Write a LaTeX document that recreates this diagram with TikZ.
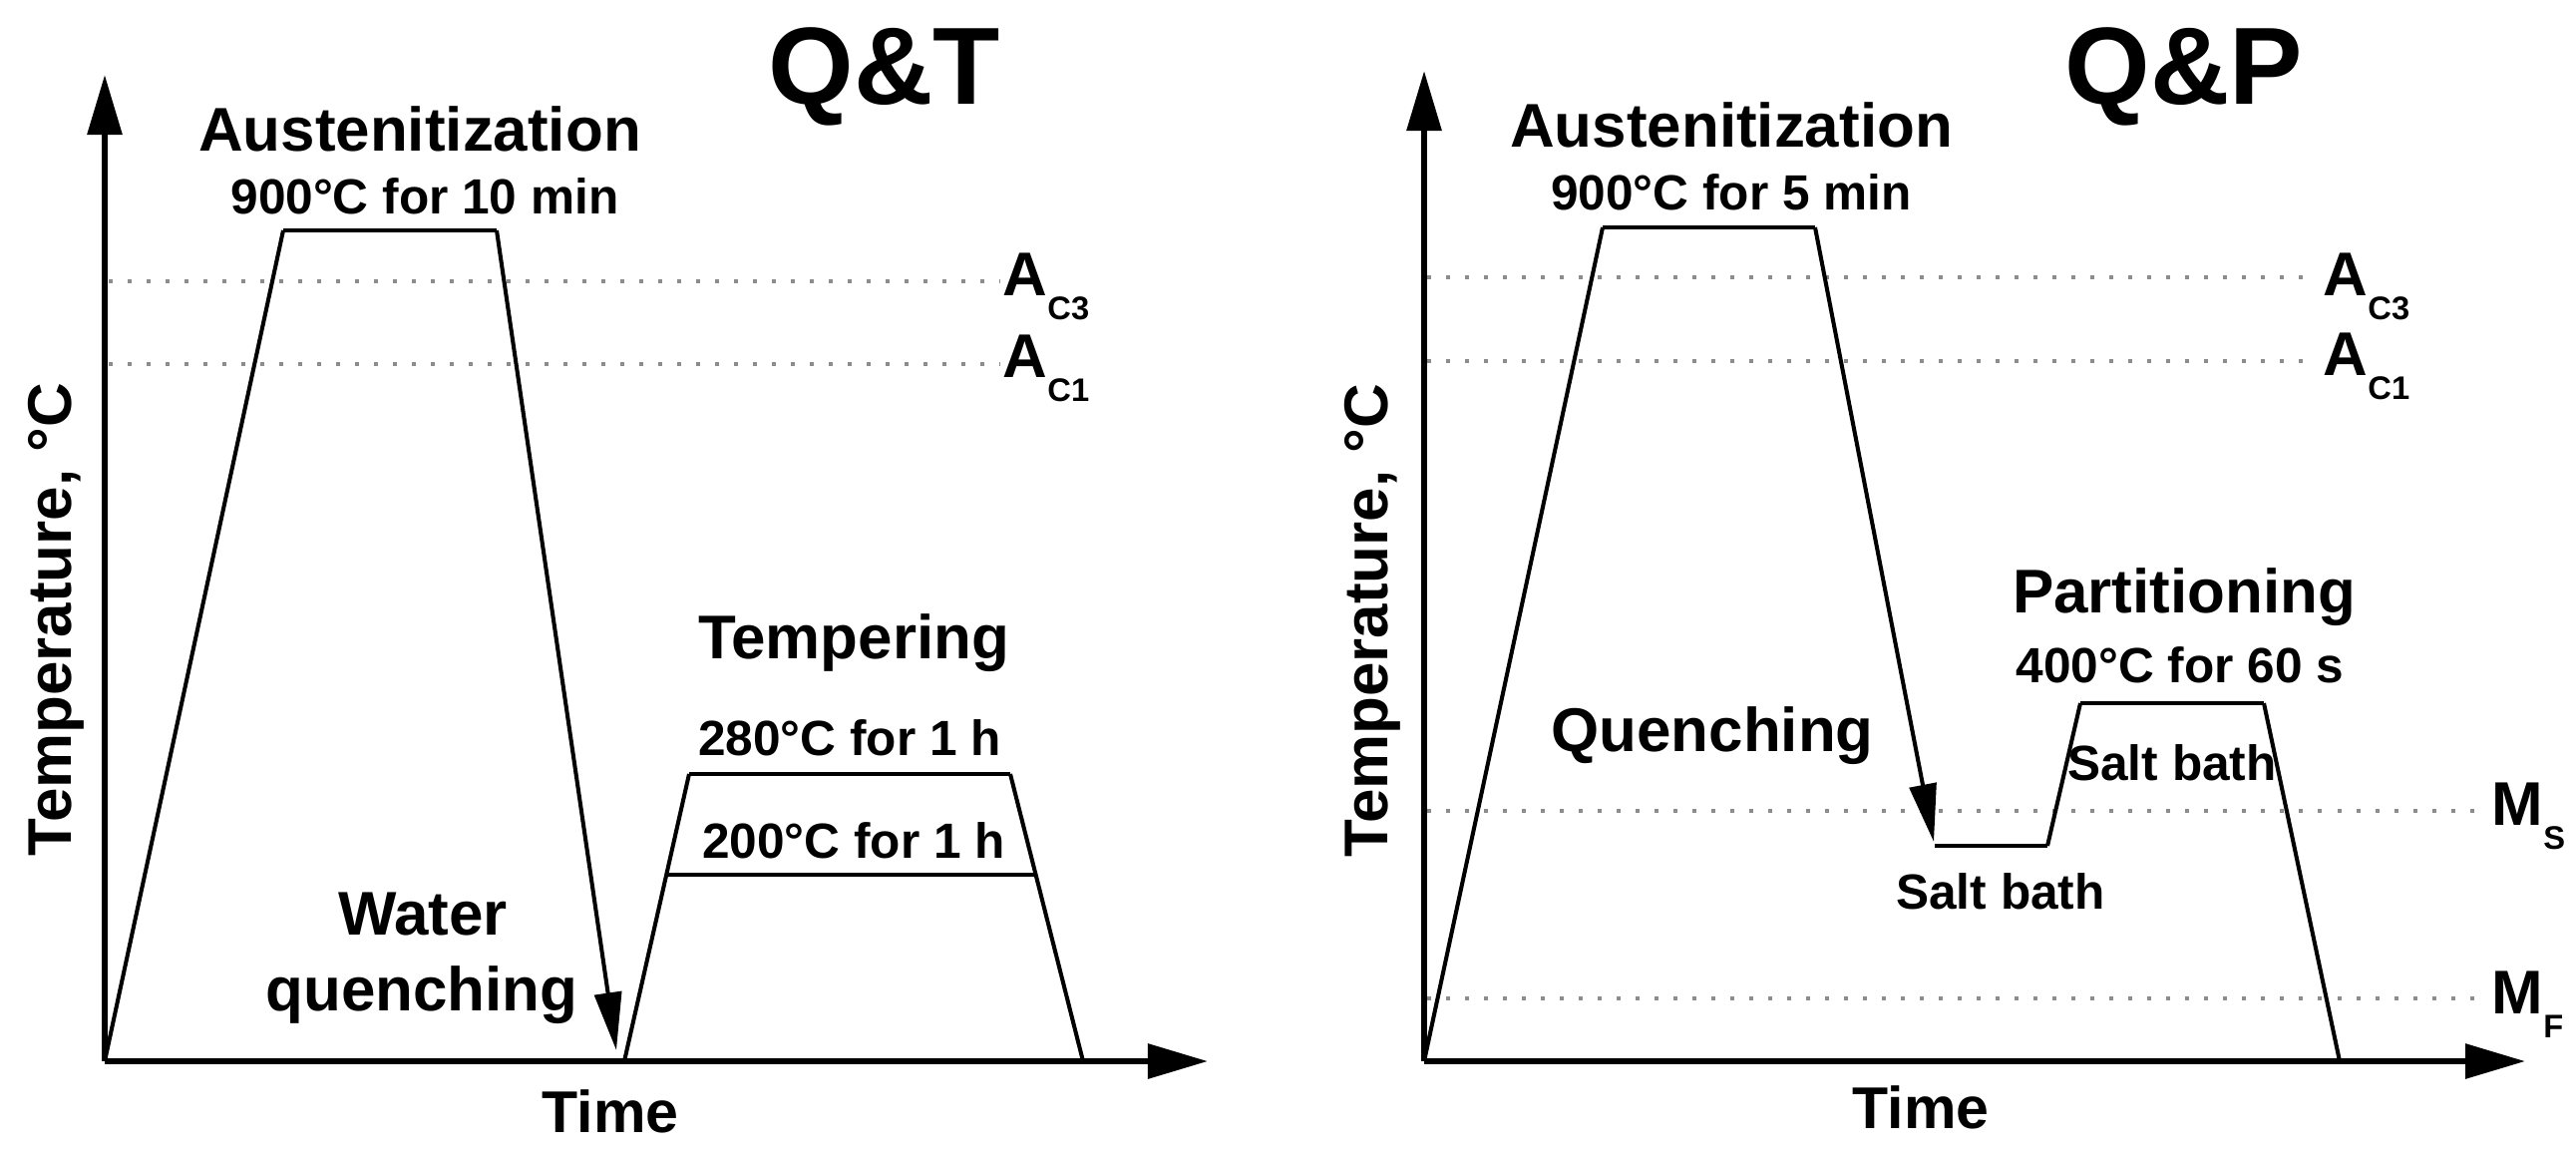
\documentclass[tikz,border=0pt]{standalone}
\usepackage{fontspec}
\setmainfont{Liberation Sans}
\usetikzlibrary{arrows.meta}
\newcommand{\lowsub}[1]{\raisebox{-0.24cm}{\fontsize{9.3}{10}\selectfont #1}}
\tikzset{
  axisline/.style={line width=1.7pt, -{Triangle[length=0.6cm,width=0.34cm]}},
  prof/.style={line width=1.15pt, line join=miter},
  plateau/.style={line width=1.4pt},
  qarrow/.style={prof, -{Triangle[length=0.58cm,width=0.27cm]}},
  refline/.style={line width=1.1pt, color=black!45, dash pattern=on 0.04cm off 0.15cm},
  biglabel/.style={font=\bfseries\fontsize{17.6}{20}\selectfont, inner sep=0pt},
  timelabel/.style={font=\bfseries\fontsize{16.8}{19}\selectfont, inner sep=0pt},
  smalllabel/.style={font=\bfseries\fontsize{14.1}{16}\selectfont, inner sep=0pt},
  titlelabel/.style={font=\bfseries\fontsize{31.3}{34}\selectfont, inner sep=0pt},
}
\begin{document}
\begin{tikzpicture}[x=0.01cm, y=-0.01cm]
\useasboundingbox (0,0) rectangle (2583,1157);

% ---------------- Left panel: Q&T ----------------
\coordinate (oL) at (105,1064);
\coordinate (yL) at (105,75);
\coordinate (xL) at (1211,1064);
\coordinate (a1) at (284,231);
\coordinate (a2) at (498,231);
\coordinate (qend) at (618,1053);
\coordinate (t0) at (626,1064);
\coordinate (t1) at (691,776);
\coordinate (t2) at (1013,776);
\coordinate (t3) at (1086,1064);
\coordinate (s1) at (668,877);
\coordinate (s2) at (1039,877);
\coordinate (c3a) at (109,282);
\coordinate (c3b) at (1003,282);
\coordinate (c1a) at (109,365);
\coordinate (c1b) at (1003,365);

\draw[refline] (c3a) -- (c3b);
\draw[refline] (c1a) -- (c1b);

\draw[prof] (oL) -- (a1);
\draw[plateau] (a1) -- (a2);
\draw[qarrow] (a2) -- (qend);
\draw[prof] (t0) -- (t1);
\draw[plateau] (t1) -- (t2);
\draw[prof] (t2) -- (t3);
\draw[plateau] (s1) -- (s2);

\draw[axisline] (oL) -- (yL);
\draw[axisline] (oL) -- (xL);

\node[titlelabel, anchor=base] (titleL) at (887,104) {Q\&T};
\node[biglabel, anchor=base] (austL) at (421,151) {Austenitization};
\node[smalllabel, anchor=base] (austLt) at (426,214) {900°C for 10 min};
\node[biglabel, anchor=base west] (ac3L) at (1005,296) {A\lowsub{C3}};
\node[biglabel, anchor=base west] (ac1L) at (1005,378) {A\lowsub{C1}};
\node[biglabel, anchor=base] (tempL) at (856,660) {Tempering};
\node[smalllabel, anchor=base] (t280) at (852,757) {280°C for 1 h};
\node[smalllabel, anchor=base] (t200) at (856,860) {200°C for 1 h};
\node[biglabel, anchor=base] (water) at (424,937) {Water};
\node[biglabel, anchor=base] (wq) at (423,1013) {quenching};
\node[timelabel, anchor=base] (timeL) at (612,1135) {Time};
\node[biglabel, rotate=90] (ylabL) at (56,621) {Temperature, °C};

% ---------------- Right panel: Q&P ----------------
\coordinate (oR) at (1428,1064);
\coordinate (yR) at (1428,71);
\coordinate (xR) at (2532,1064);
\coordinate (b1) at (1607,228);
\coordinate (b2) at (1820,228);
\coordinate (qtip) at (1939,844);
\coordinate (p0) at (1940,848);
\coordinate (p1) at (2053,848);
\coordinate (p2) at (2086,705);
\coordinate (p3) at (2270,705);
\coordinate (p4) at (2346,1064);
\coordinate (r3a) at (1431,278);
\coordinate (r3b) at (2323,278);
\coordinate (r1a) at (1431,362);
\coordinate (r1b) at (2323,362);
\coordinate (msa) at (1431,813);
\coordinate (msb) at (2495,813);
\coordinate (mfa) at (1431,1001);
\coordinate (mfb) at (2495,1001);

\draw[refline] (r3a) -- (r3b);
\draw[refline] (r1a) -- (r1b);
\draw[refline] (msa) -- (msb);
\draw[refline] (mfa) -- (mfb);

\draw[prof] (oR) -- (b1);
\draw[plateau] (b1) -- (b2);
\draw[qarrow] (b2) -- (qtip);
\draw[plateau] (p0) -- (p1);
\draw[prof] (p1) -- (p2);
\draw[plateau] (p2) -- (p3);
\draw[prof] (p3) -- (p4);

\draw[axisline] (oR) -- (yR);
\draw[axisline] (oR) -- (xR);

\node[titlelabel, anchor=base] (titleR) at (2190,104) {Q\&P};
\node[biglabel, anchor=base] (austR) at (1736,147) {Austenitization};
\node[smalllabel, anchor=base] (austRt) at (1736,210) {900°C for 5 min};
\node[biglabel, anchor=base west] (ac3R) at (2329,296) {A\lowsub{C3}};
\node[biglabel, anchor=base west] (ac1R) at (2329,376) {A\lowsub{C1}};
\node[biglabel, anchor=base] (part) at (2190,614) {Partitioning};
\node[smalllabel, anchor=base] (p400) at (2186,684) {400°C for 60 s};
\node[smalllabel, anchor=base] (salt1) at (2178,782) {Salt bath};
\node[biglabel, anchor=base] (quench) at (1717,753) {Quenching};
\node[smalllabel, anchor=base] (salt2) at (2006,911) {Salt bath};
\node[biglabel, anchor=base west] (msl) at (2498,827) {M\lowsub{S}};
\node[biglabel, anchor=base west] (mfl) at (2498,1016) {M\lowsub{F}};
\node[timelabel, anchor=base] (timeR) at (1926,1131) {Time};
\node[biglabel, rotate=90] (ylabR) at (1376,622) {Temperature, °C};
\end{tikzpicture}
\end{document}
